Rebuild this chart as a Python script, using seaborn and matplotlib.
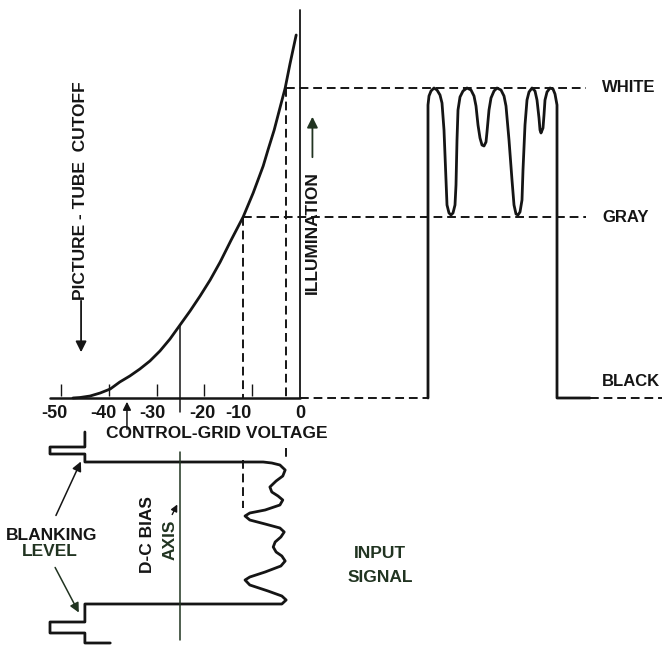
import matplotlib
matplotlib.use("Agg")
import matplotlib.pyplot as plt
import seaborn as sns

# transfer characteristic: control-grid voltage vs illumination
grid_volts = [-47.5, -46.0, -43.9, -41.8, -39.7, -37.7, -35.6, -33.5, -31.4, -29.3, -27.2, -25.1,
              -23.0, -20.9, -18.8, -16.7, -14.4, -11.9, -9.8, -7.7, -6.7, -5.4, -4.2, -3.1, -2.1, -0.8]
illum = [0, 0.5, 2, 5, 9, 16, 22, 29, 37, 47, 59, 73,
         87, 102, 118, 136, 158, 181, 205, 232, 248, 268, 290, 310, 334, 363]

# picture levels (illumination) and the grid voltages that give them
white_lvl, gray_lvl, black_lvl = 310, 181, 0
white_v, gray_v, bias_v = -3, -12, -25

tick_vals = [-50, -40, -30, -20, -10]
tick_labels = ["-50", "-40", "-30", "-20", "-10", "0"]
label_pos = [-51.3, -41.2, -30.8, -20.5, -12.8, 0]

# output (illumination) waveform vs time
out_t = [0, 0, 1, 3, 6, 9, 12, 14, 16, 18, 19, 21, 23, 25, 27, 28, 29, 30, 32, 35,
         39, 43, 46, 48, 50, 52, 54, 56, 58, 59, 61, 63, 66, 69, 73, 76, 78, 81, 84, 86,
         88, 90, 92, 94, 95, 97, 99, 101, 104, 107, 109, 111, 112, 113, 115, 116, 117, 119, 122, 125,
         127, 129, 129, 162]
out_i = [0, 293, 302, 307, 310, 308, 303, 295, 268, 218, 193, 185, 183, 185, 193, 213, 258, 288, 301, 307,
         310, 308, 302, 292, 273, 260, 253, 252, 256, 266, 288, 300, 307, 310, 308, 302, 292, 258, 218, 193,
         184, 183, 186, 198, 228, 273, 298, 306, 310, 307, 298, 280, 268, 265, 270, 283, 298, 306, 310, 309,
         304, 293, 0, 0]

# input signal: grid voltage vs time (time runs downward)
in_v = [-45, -45, -52.3, -52.3, -45, -45, -7.7, -5.9, -4.2, -3.1, -3.6, -5.0, -6.3, -5.9, -4.6, -3.6,
        -4.2, -7.3, -10.5, -11.5, -10.5, -7.3, -4.2, -3.3, -4.0, -5.2, -5.6, -5.0, -3.8, -3.1, -4.0,
        -7.3, -10.5, -11.5, -10.5, -6.7, -3.8, -2.9, -3.8, -45, -45, -52.3, -52.3, -45, -45, -39.7]
in_t = [-30, -15, -15, -8, -8, 0, 0, 1, 3, 8, 14, 19, 25, 30, 34, 38,
        43, 48, 51, 54, 58, 62, 66, 70, 75, 80, 85, 90, 94, 99, 104,
        110, 115, 118, 123, 129, 134, 138, 142, 142, 160, 160, 171, 171, 181, 181]

INK = "#151515"
GREEN = "#213421"

sns.set_theme(style="white")
plt.rcParams["font.family"] = ["Liberation Sans", "DejaVu Sans"]
plt.rcParams["font.weight"] = "bold"

fig = plt.figure(figsize=(6.62, 6.45), dpi=100)
ax = fig.add_axes([0, 0, 1, 1], label="curve")
ax_out = fig.add_axes([0, 0, 1, 1], label="output")
ax_in = fig.add_axes([0, 0, 1, 1], label="input")
ax.set_xlim(-62.76, 75.73)
ax.set_ylim(-247, 398)
ax_out.set_xlim(-428, 234)
ax_out.set_ylim(-247, 398)
ax_in.set_xlim(-62.76, 75.73)
ax_in.set_ylim(183, -462)
for a in (ax, ax_out, ax_in):
    a.axis("off")
    a.patch.set_alpha(0)

dash = (0, (4.5, 2.5))
fs = 12.5

# transfer curve and its axes
sns.lineplot(x=grid_volts, y=illum, sort=False, estimator=None, ax=ax, color=INK, lw=2.0)
ax.plot([-52.3, 0], [black_lvl, black_lvl], color=INK, lw=1.8)
ax.plot([0, 0], [black_lvl, 388], color=INK, lw=1.3)
ax.vlines(tick_vals, 2, 14, color=INK, lw=1.0)
for lab, x in zip(tick_labels, label_pos):
    ax.text(x, -16, lab, ha="center", va="center", fontsize=13, color=INK)
ax.text(-17.4, -36, "CONTROL-GRID VOLTAGE", ha="center", va="center", fontsize=fs, color=INK)

# projection lines
ax.plot([bias_v, bias_v], [73, -14], color=INK, lw=1.1)
ax.plot([gray_v, gray_v], [gray_lvl, black_lvl], color=INK, lw=1.4, ls=dash)
ax.plot([white_v, white_v], [white_lvl, -2], color=INK, lw=1.4, ls=dash)
ax.plot([gray_v, 59.9], [gray_lvl, gray_lvl], color=INK, lw=1.4, ls=dash)
ax.plot([white_v, 59.9], [white_lvl, white_lvl], color=INK, lw=1.4, ls=dash)
ax.plot([0, 26.8], [black_lvl, black_lvl], color=INK, lw=1.4, ls=dash)

ax.text(-46, 207, "PICTURE - TUBE  CUTOFF", rotation=90, ha="center", va="center",
        fontsize=fs, color=INK)
ax.annotate("", xy=(-45.8, 43), xytext=(-45.8, 100),
            arrowprops=dict(arrowstyle="-|>", color=INK, lw=1.3, mutation_scale=16))
ax.text(2.6, 165, "ILLUMINATION", rotation=90, ha="center", va="center", fontsize=fs, color=INK)
ax.annotate("", xy=(2.6, 284), xytext=(2.6, 238),
            arrowprops=dict(arrowstyle="-|>", color=GREEN, lw=1.3, mutation_scale=16))
ax.annotate("", xy=(-36.2, -1), xytext=(-36.2, -34),
            arrowprops=dict(arrowstyle="-|>", color=INK, lw=1.1, mutation_scale=12))

# output waveform
sns.lineplot(x=out_t, y=out_i, sort=False, estimator=None, ax=ax_out, color=INK, lw=2.0)
ax_out.plot([162, 234], [black_lvl, black_lvl], color=INK, lw=1.4, ls=dash)
for name, lvl in [("WHITE", white_lvl), ("GRAY", gray_lvl), ("BLACK", 16)]:
    ax_out.text(174, lvl, name, ha="left", va="center", fontsize=12, color=INK)

# input signal
sns.lineplot(x=in_v, y=in_t, sort=False, estimator=None, ax=ax_in, color=INK, lw=2.0)
ax_in.plot([bias_v, bias_v], [-10, 178], color=GREEN, lw=1.1)
ax_in.plot([gray_v, gray_v], [-2, 46], color=INK, lw=1.4, ls=dash)
ax_in.plot([white_v, white_v], [-14, -5], color=INK, lw=1.4, ls=dash)

ax_in.text(-51.9, 73, "BLANKING", ha="center", va="center", fontsize=fs, color=INK)
ax_in.text(-52.3, 90, "LEVEL", ha="center", va="center", fontsize=fs, color=GREEN)
ax_in.annotate("", xy=(-45.6, -3), xytext=(-51.3, 56),
               arrowprops=dict(arrowstyle="-|>", color=INK, lw=1.1, mutation_scale=14))
ax_in.annotate("", xy=(-46.0, 153), xytext=(-51.5, 103),
               arrowprops=dict(arrowstyle="-|>", color=GREEN, lw=1.1, mutation_scale=14))
ax_in.text(-32, 73, "D-C BIAS", rotation=90, ha="center", va="center", fontsize=fs, color=INK)
ax_in.text(-27.2, 78, "AXIS", rotation=90, ha="center", va="center", fontsize=fs, color=GREEN)
ax_in.annotate("", xy=(-25.4, 40), xytext=(-27.0, 55),
               arrowprops=dict(arrowstyle="-|>", color=INK, lw=1.0, mutation_scale=10))
ax_in.text(16.7, 91, "INPUT", ha="center", va="center", fontsize=fs, color=GREEN)
ax_in.text(16.7, 115, "SIGNAL", ha="center", va="center", fontsize=fs, color=GREEN)

fig.savefig("out.png", dpi=100, facecolor="white")
